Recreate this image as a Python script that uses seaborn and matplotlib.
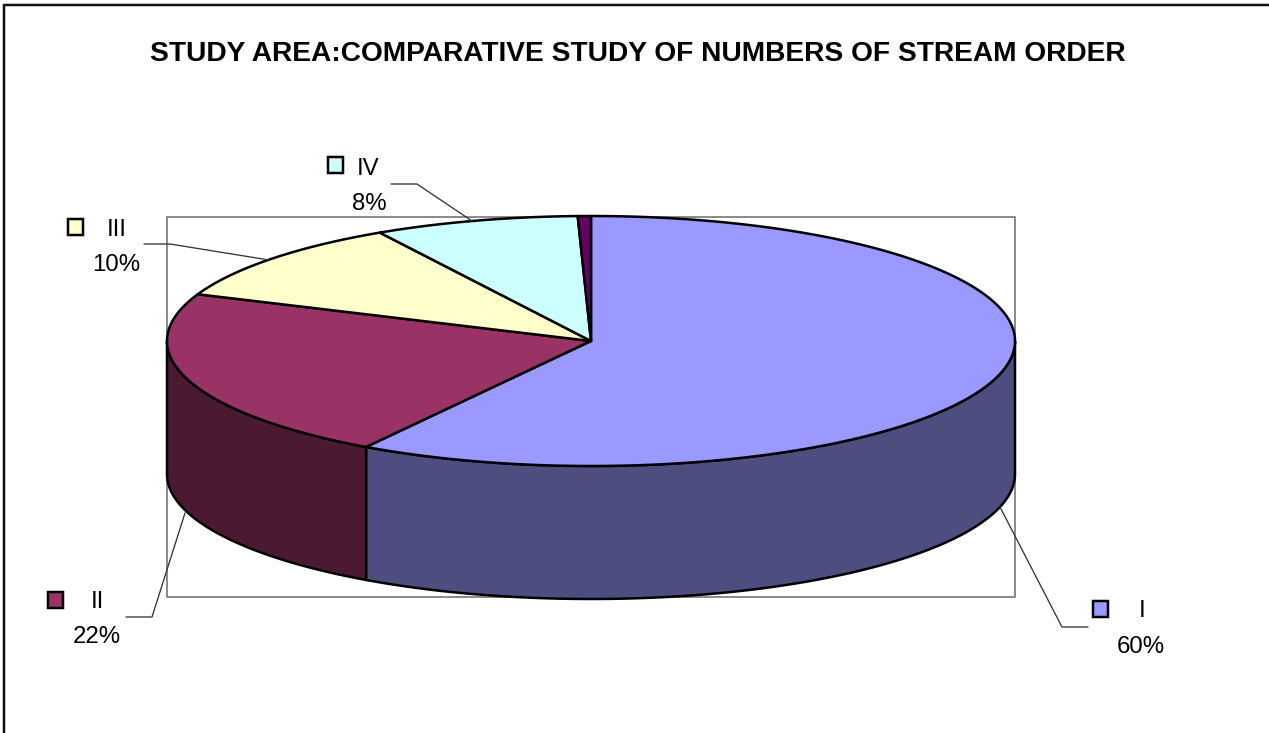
import numpy as np
import matplotlib
matplotlib.use("Agg")
import matplotlib.pyplot as plt
import seaborn as sns

title = "STUDY AREA:COMPARATIVE STUDY OF NUMBERS OF STREAM ORDER"
categories = ["I", "II", "III", "IV", "V"]
shares = [58.9, 22.2, 10.6, 7.8, 0.5]
pct_labels = ["60%", "22%", "10%", "8%", None]
top_colors = ["#9999FF", "#993366", "#FFFFCC", "#CCFFFF", "#660066"]
side_colors = ["#4D4D7F", "#4C1933", "#80805F", "#668080", "#330033"]

W, H = 1269, 733
sns.set_theme(style="white")
plt.rcParams['font.family'] = ['Liberation Sans', 'DejaVu Sans']
fig = plt.figure(figsize=(W / 100, H / 100), dpi=100)
ax = fig.add_axes([0, 0, 1, 1])
ax.set_xlim(0, W)
ax.set_ylim(H, 0)
ax.axis("off")
px = 72 / 100

cx, cy, rx, ry, depth = 591, 341, 424, 125, 133
LW = 2.5 * px


def pt(deg, dy=0):
    r = np.radians(deg)
    return cx + rx * np.sin(r), cy - ry * np.cos(r) + dy


def arc(a, b, dy=0):
    ts = np.linspace(a, b, max(int(abs(b - a) * 2), 2))
    return np.column_stack(pt(ts, dy))


# outer frame and plot area
ax.plot([4, 4, W], [H, 5, 5], color="#111111", lw=2.5 * px, solid_joinstyle="miter", zorder=1)
ax.plot([167, 1015, 1015, 167, 167], [217, 217, 597, 597, 217], color="#8C8C8C", lw=2 * px, zorder=1)

edges = np.concatenate([[0], np.cumsum(shares)]) / sum(shares) * 360

# side walls for the visible front half of the disc
for i in range(len(shares)):
    a, b = max(edges[i], 90), min(edges[i + 1], 270)
    if b <= a:
        continue
    poly = np.vstack([arc(a, b), arc(a, b, depth)[::-1]])
    ax.fill(poly[:, 0], poly[:, 1], facecolor=side_colors[i], edgecolor="black", lw=LW, zorder=2, joinstyle="round")

# top surface
for i in range(len(shares)):
    poly = np.vstack([[cx, cy], arc(edges[i], edges[i + 1])])
    ax.fill(poly[:, 0], poly[:, 1], facecolor=top_colors[i], edgecolor="black", lw=LW, zorder=3, joinstyle="round")

# labels: key square, name, percentage, leader line
key_boxes = [(1093, 601), (48, 592), (68, 219), (328, 157)]
name_pos = [(1142, 611), (97, 602), (117, 230), (368, 169)]
pct_pos = [(1141, 647), (97, 637), (116, 265), (369, 204)]
leaders = [
    [(1088, 627), (1062, 627), (1000, 507)],
    [(126, 617), (152, 617), (185, 513)],
    [(144, 244), (170, 244), (269, 260)],
    [(391, 184), (417, 184), (472, 221)],
]
FS = 24 * px
for i, lab in enumerate(pct_labels):
    if lab is None:
        continue
    kx, ky = key_boxes[i]
    ax.add_patch(plt.Rectangle((kx, ky), 15, 16, facecolor=top_colors[i], edgecolor="black", lw=LW, zorder=4))
    ax.text(*name_pos[i], categories[i], ha="center", va="center", fontsize=FS, color="black", zorder=4)
    ax.text(*pct_pos[i], lab, ha="center", va="center", fontsize=FS, color="black", zorder=4)
    xs, ys = zip(*leaders[i])
    ax.plot(xs, ys, color="#333333", lw=1.3 * px, zorder=4)

ax.text(638, 54, title, ha="center", va="center", fontsize=28.1 * px, fontweight="bold", color="black")

fig.savefig("out.png", dpi=100, facecolor="white")
